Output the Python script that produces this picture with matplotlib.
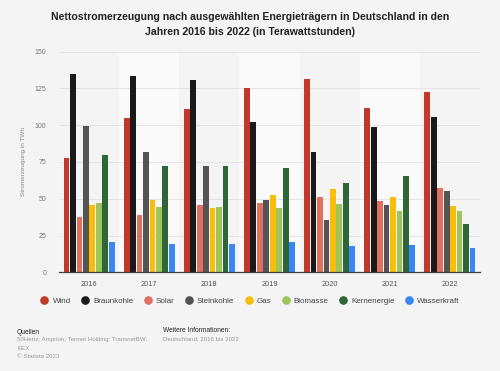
import matplotlib
matplotlib.use("Agg")
import matplotlib.pyplot as plt
from matplotlib.lines import Line2D
import numpy as np

plt.rcParams['font.family'] = ['Liberation Sans', 'DejaVu Sans']

years = ["2016", "2017", "2018", "2019", "2020", "2021", "2022"]
series_names = ["Wind", "Braunkohle", "Solar", "Steinkohle", "Gas", "Biomasse", "Kernenergie", "Wasserkraft"]
wind = [78.0, 105.0, 111.0, 125.5, 131.5, 111.5, 122.5]
braunkohle = [134.5, 133.5, 131.0, 102.0, 82.0, 99.0, 105.5]
solar = [37.5, 39.0, 45.5, 47.0, 51.5, 48.5, 57.0]
steinkohle = [99.5, 81.5, 72.0, 49.0, 35.5, 46.0, 55.0]
gas = [46.0, 49.0, 44.0, 52.5, 56.5, 51.5, 45.0]
biomasse = [47.0, 44.5, 44.5, 43.5, 46.5, 41.5, 41.5]
kernenergie = [80.0, 72.0, 72.0, 71.0, 60.5, 65.5, 33.0]
wasserkraft = [20.5, 19.5, 19.0, 20.5, 18.0, 18.5, 16.5]
values = [wind, braunkohle, solar, steinkohle, gas, biomasse, kernenergie, wasserkraft]
colors = ["#c0392b", "#1a1a1a", "#e0705f", "#545454", "#fbbd0c", "#9dc55c", "#2f6638", "#3a86f5"]
yticks = [0, 25, 50, 75, 100, 125, 150]

bg = "#f4f4f4"
fig = plt.figure(figsize=(5, 3.71), dpi=100, facecolor=bg)
ax = fig.add_axes([0.118, 0.266, 0.842, 0.595])
ax.set_facecolor(bg)

x = np.arange(len(years))
step = 0.107
w = 0.097
for i in range(len(years)):
    if i % 2 == 1:
        ax.axvspan(i - 0.5, i + 0.5, color="#fafafa", zorder=0, lw=0)
for j, (name, vals, c) in enumerate(zip(series_names, values, colors)):
    ax.bar(x + (j - 3.5) * step, vals, width=w, color=c, zorder=3, label=name)

ax.set_xlim(-0.5, 6.5)
ax.set_ylim(0, 150)
ax.set_yticks(yticks)
ax.set_yticklabels([str(t) for t in yticks])
ax.set_xticks(x)
ax.set_xticklabels(years)
ax.grid(axis="y", color="#e2e2e2", lw=0.6, zorder=1)
for s in ["top", "right", "left"]:
    ax.spines[s].set_visible(False)
ax.spines["bottom"].set_color("#444444")
ax.spines["bottom"].set_linewidth(0.9)
ax.spines["bottom"].set_zorder(4)
ax.tick_params(axis="y", length=0, pad=9, labelsize=5.0, labelcolor="#777777")
ax.tick_params(axis="x", length=0, pad=6.5, labelsize=5.3, labelcolor="#555555")
ax.set_ylabel("Stromerzeugung in TWh", fontsize=4.6, color="#888888", labelpad=6)

fig.text(0.5, 1 - 17 / 371, "Nettostromerzeugung nach ausgewählten Energieträgern in Deutschland in den",
         ha="center", va="center", fontsize=7.6, fontweight="bold", color="#222222")
fig.text(0.5, 1 - 32 / 371, "Jahren 2016 bis 2022 (in Terawattstunden)",
         ha="center", va="center", fontsize=7.6, fontweight="bold", color="#222222")

handles = [Line2D([0], [0], marker="o", linestyle="", markersize=5.2, markerfacecolor=c,
                  markeredgecolor=c) for c in colors]
fig.legend(handles, series_names, loc="center", bbox_to_anchor=(0.5, 1 - 300.7 / 371), ncol=8,
           frameon=False, fontsize=5.8, handletextpad=0.5, columnspacing=1.28, handlelength=1.0,
           labelcolor="#444444")

fig.text(17 / 500, 1 - 332 / 371, "Quellen", fontsize=4.8, color="#222222", va="center")
fig.text(17 / 500, 1 - 340 / 371, "50Hertz; Amprion; Tennet Holding; TransnetBW;", fontsize=4.45,
         color="#999999", va="center")
fig.text(17 / 500, 1 - 348 / 371, "EEX", fontsize=4.45, color="#999999", va="center")
fig.text(17 / 500, 1 - 357 / 371, "© Statista 2023", fontsize=4.45, color="#999999", va="center")
fig.text(163 / 500, 1 - 330 / 371, "Weitere Informationen:", fontsize=4.75, color="#222222", va="center")
fig.text(163 / 500, 1 - 338.5 / 371, "Deutschland; 2016 bis 2022", fontsize=4.45, color="#999999", va="center")

fig.savefig("out.png", dpi=100, facecolor=bg)
